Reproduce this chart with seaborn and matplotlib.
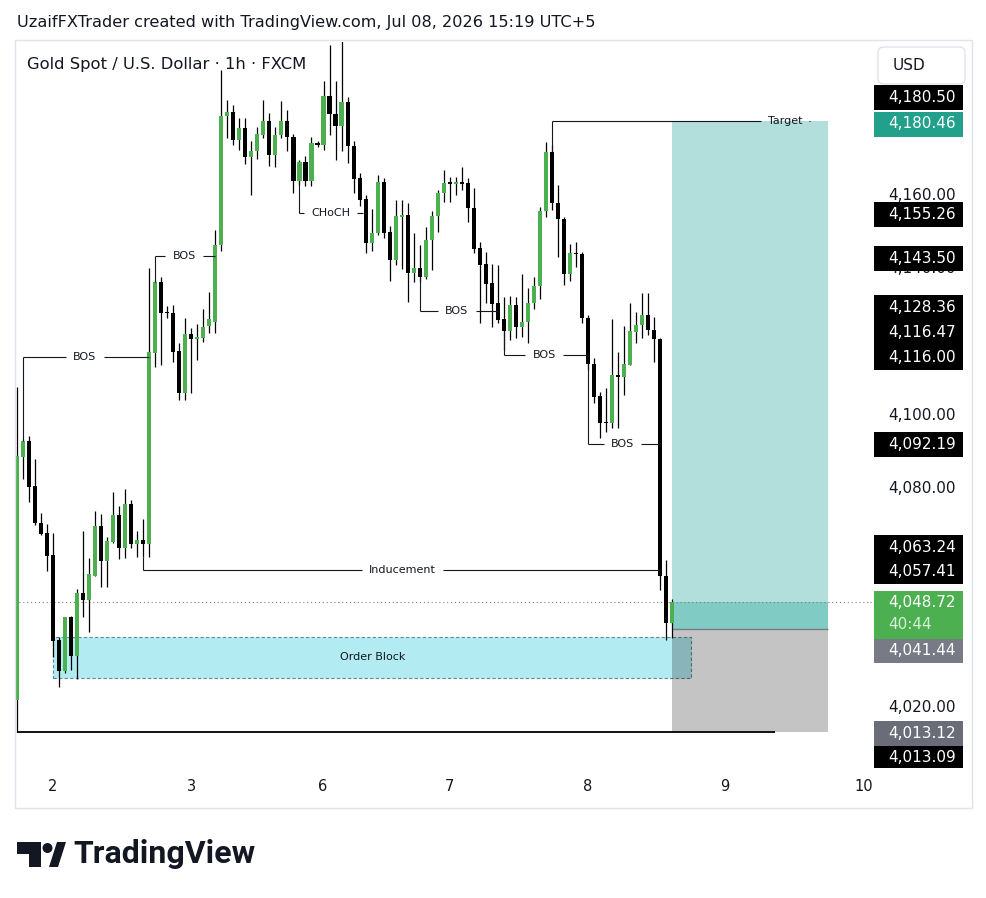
import numpy as np
import pandas as pd
import matplotlib
matplotlib.use("Agg")
import matplotlib.pyplot as plt
import seaborn as sns
from matplotlib.patches import Rectangle, FancyBboxPatch, Polygon, Ellipse

# XAUUSD 1h candles
opens = [4021.9, 4088.6, 4093.0, 4080.5, 4070.3, 4067.8, 4061.6, 4038.4, 4030.0, 4044.6,
         4034.0, 4051.1, 4049.3, 4055.9, 4069.6, 4060.1, 4065.3, 4072.6, 4063.5, 4075.6,
         4064.7, 4065.8, 4064.6, 4117.1, 4136.4, 4128.0, 4127.9, 4117.6, 4106.0, 4122.2,
         4120.7, 4121.2, 4124.4, 4125.6, 4146.6, 4181.8, 4183.0, 4175.4, 4178.6, 4170.6,
         4172.4, 4176.8, 4180.6, 4171.3, 4176.6, 4180.6, 4176.3, 4164.2, 4169.3, 4164.2,
         4174.5, 4173.9, 4187.3, 4182.5, 4179.1, 4185.8, 4173.6, 4164.9, 4159.3, 4147.1,
         4149.9, 4163.8, 4150.1, 4142.5, 4154.2, 4154.8, 4139.0, 4140.2, 4137.7, 4147.9,
         4154.5, 4160.7, 4163.5, 4163.2, 4163.8, 4163.5, 4156.6, 4145.7, 4141.4, 4136.2,
         4130.6, 4126.2, 4123.1, 4130.1, 4124.2, 4125.6, 4130.6, 4135.3, 4155.8, 4172.1,
         4158.2, 4153.6, 4138.6, 4144.5, 4144.1, 4126.5, 4114.0, 4105.2, 4097.9, 4097.9,
         4111.0, 4110.5, 4113.7, 4122.8, 4124.7, 4127.4, 4123.3, 4120.7, 4055.9, 4042.9]
highs = [4107.8, 4093.5, 4094.2, 4087.9, 4073.1, 4070.1, 4067.6, 4039.3, 4044.6, 4045.0,
         4052.2, 4068.3, 4060.7, 4073.6, 4072.9, 4066.5, 4079.0, 4075.1, 4079.6, 4076.7,
         4068.3, 4071.4, 4140.2, 4137.0, 4137.9, 4129.8, 4130.1, 4119.7, 4126.5, 4123.8,
         4125.0, 4129.0, 4133.8, 4150.8, 4194.6, 4186.4, 4185.0, 4181.4, 4181.4, 4175.0,
         4179.0, 4186.2, 4182.7, 4179.0, 4186.1, 4183.6, 4177.0, 4169.8, 4170.9, 4176.3,
         4175.0, 4191.4, 4201.5, 4191.4, 4202.4, 4187.0, 4175.0, 4166.3, 4160.4, 4156.5,
         4165.8, 4165.0, 4151.7, 4159.0, 4159.0, 4158.2, 4149.8, 4146.6, 4151.4, 4156.0,
         4161.6, 4167.1, 4165.1, 4165.3, 4167.9, 4165.0, 4162.1, 4147.5, 4144.7, 4141.4,
         4141.1, 4132.4, 4132.6, 4132.4, 4138.6, 4134.7, 4137.8, 4157.1, 4174.9, 4174.0,
         4163.0, 4154.3, 4146.8, 4147.5, 4144.7, 4127.4, 4115.5, 4106.4, 4107.3, 4126.2,
         4117.3, 4124.4, 4130.8, 4128.3, 4133.5, 4133.5, 4126.9, 4121.0, 4060.3, 4049.5]
lows = [4013.1, 4082.6, 4076.1, 4069.9, 4067.1, 4057.3, 4033.8, 4025.6, 4029.3, 4030.1,
        4027.6, 4044.7, 4040.6, 4055.9, 4052.8, 4052.8, 4065.0, 4060.5, 4060.7, 4063.5,
        4061.2, 4061.0, 4061.2, 4113.2, 4113.7, 4126.5, 4114.6, 4104.1, 4104.1, 4106.0,
        4115.0, 4120.0, 4122.4, 4122.5, 4145.0, 4175.9, 4174.0, 4172.7, 4168.8, 4160.2,
        4170.0, 4175.9, 4168.1, 4168.0, 4175.9, 4172.2, 4160.9, 4163.0, 4162.7, 4162.7,
        4173.5, 4172.7, 4176.6, 4169.9, 4172.2, 4169.0, 4160.8, 4157.2, 4144.4, 4144.8,
        4149.4, 4148.5, 4136.6, 4141.0, 4140.0, 4131.0, 4136.5, 4136.5, 4137.2, 4139.7,
        4150.2, 4158.4, 4158.4, 4160.3, 4161.6, 4153.0, 4144.5, 4125.3, 4130.6, 4124.2,
        4125.1, 4117.8, 4120.5, 4121.0, 4121.4, 4119.6, 4129.0, 4131.7, 4154.3, 4156.2,
        4143.4, 4135.6, 4136.8, 4140.6, 4125.1, 4112.3, 4103.2, 4093.6, 4095.4, 4096.4,
        4096.4, 4105.5, 4113.7, 4119.6, 4121.0, 4121.9, 4114.4, 4052.0, 4038.4, 4039.0]
closes = [4088.8, 4093.0, 4080.4, 4070.3, 4067.4, 4061.4, 4038.2, 4030.0, 4044.6, 4034.0,
          4051.3, 4049.3, 4056.4, 4069.6, 4060.1, 4065.6, 4072.6, 4063.5, 4075.6, 4064.7,
          4065.8, 4064.6, 4117.3, 4136.4, 4128.0, 4127.9, 4117.3, 4106.0, 4122.2, 4120.7,
          4121.5, 4124.2, 4126.2, 4146.6, 4181.8, 4183.0, 4175.4, 4178.6, 4170.6, 4172.4,
          4177.0, 4180.6, 4171.3, 4176.6, 4180.6, 4176.3, 4164.2, 4169.3, 4164.2, 4174.5,
          4173.9, 4187.3, 4182.5, 4179.1, 4185.8, 4173.6, 4164.7, 4159.0, 4147.1, 4149.9,
          4163.8, 4149.9, 4142.5, 4154.4, 4154.9, 4139.0, 4140.2, 4137.7, 4147.9, 4154.5,
          4160.7, 4163.5, 4163.4, 4163.8, 4163.3, 4156.6, 4145.4, 4141.1, 4135.9, 4130.4,
          4126.0, 4123.1, 4130.1, 4124.2, 4125.6, 4130.6, 4135.3, 4155.8, 4172.1, 4158.2,
          4153.6, 4138.6, 4144.5, 4144.1, 4126.5, 4114.0, 4105.0, 4097.9, 4097.8, 4111.0,
          4110.5, 4114.0, 4123.1, 4124.7, 4127.4, 4123.3, 4120.7, 4055.9, 4042.9, 4048.7]

date_ticks = [6.0, 29.0, 50.9, 72.0, 95.0, 117.8, 140.9]
date_labels = ["2", "3", "6", "7", "8", "9", "10"]

# market structure drawings
struct_names = ["BOS", "BOS", "CHoCH", "BOS", "BOS", "BOS", "Inducement", "Target"]
struct_start = [1, 23, 47, 67, 81, 95, 21, 89]
struct_anchor = [4093.0, 4136.4, 4164.2, 4137.7, 4123.1, 4114.0, 4061.0, 4172.1]
struct_level = [4116.00, 4143.50, 4155.26, 4128.36, 4116.47, 4092.19, 4057.41, 4180.50]
struct_end = [22, 33, 57.5, 80, 95, 107, 107, 132]
struct_text_x = [11.3, 27.8, 52.2, 73.2, 87.7, 100.8, 64.1, 127.8]

# order block
ob_left, ob_right = 6, 112.2
ob_top, ob_bottom = 4039.3, 4027.9

# long position tool
pos_left, pos_right = 109, 134.9
target = 4180.46
entry = 4041.44
stop = 4013.12
last_price = 4048.72
countdown = "40:44"
low_line = 4013.09
low_line_end = 126.1

# price scale labels
tick_prices = [4020, 4040, 4060, 4080, 4100, 4120, 4140, 4160, 4180]
label_values = [4180.50, 4180.46, 4155.26, 4143.50, 4128.36, 4116.47, 4116.00,
                4092.19, 4063.24, 4057.41, 4041.44, 4013.12, 4013.09]
label_colors = ["#000000", "#22a08c", "#000000", "#000000", "#000000", "#000000", "#000000",
                "#000000", "#000000", "#000000", "#787b86", "#6a6d78", "#000000"]
# where TradingView stacked the labels (pixel rows)
label_rows = [97.5, 124, 214.5, 258.5, 307, 332.5, 357.5, 444.5, 547, 571, 650.5, 733.5, 758]

GREEN = "#4caf50"
INK = "#131722"

sns.set_theme(style="white")
plt.rcParams["font.family"] = ["DejaVu Sans"]

W, H = 987, 898
fig = plt.figure(figsize=(W / 100, H / 100), dpi=100)
fig.patch.set_facecolor("white")


def fig_rect(x0, y0, x1, y1):
    return [x0 / W, 1 - y1 / H, (x1 - x0) / W, (y1 - y0) / H]


ax = fig.add_axes(fig_rect(15, 42, 870, 768))
ax.set_xlim(-0.333, 141.93)
ax.set_ylim(4003.29, 4202.19)
ax.set_autoscale_on(False)
ax.set_facecolor("white")
sns.despine(ax=ax, left=True, bottom=True)
ax.set_yticks([])
ax.set_xticks(date_ticks, date_labels)
ax.tick_params(axis="x", length=0, pad=8, labelsize=10.5, labelcolor=INK)

df = pd.DataFrame({"open": opens, "high": highs, "low": lows, "close": closes})
df["idx"] = np.arange(len(df))
up = df["close"] >= df["open"]
body_lo = df[["open", "close"]].min(axis=1)
body_h = (df["close"] - df["open"]).abs().clip(lower=0.35)

# position tool + order block
ax.add_patch(Rectangle((ob_left, ob_bottom), ob_right - ob_left, ob_top - ob_bottom,
                       facecolor="#b2ebf2", edgecolor="#5f8a91", ls=(0, (3, 2)), lw=0.8, zorder=1))
ax.text((ob_left + ob_right) / 2, (ob_top + ob_bottom) / 2, "Order Block",
        ha="center", va="center", fontsize=8, color=INK, zorder=5)
ax.add_patch(Rectangle((pos_left, last_price), pos_right - pos_left, target - last_price,
                       facecolor="#b2dfdb", edgecolor="none", zorder=1))
ax.add_patch(Rectangle((pos_left, entry), pos_right - pos_left, last_price - entry,
                       facecolor="#80cbc4", edgecolor="none", zorder=1))
ax.add_patch(Rectangle((pos_left, stop), pos_right - pos_left, entry - stop,
                       facecolor=(0, 0, 0, 0.23), edgecolor="none", zorder=2))
ax.hlines(entry, pos_left, pos_right, color="#787b86", lw=1, zorder=2.5)
ax.axhline(last_price, color="#787b86", lw=0.8, ls=(0, (1, 2.5)), zorder=2.6)

# candles
ax.vlines(df["idx"], df["low"], df["high"], color="#000000", lw=0.9, zorder=3)
ax.bar(df["idx"], body_h, bottom=body_lo, width=0.68,
       color=np.where(up, GREEN, "#000000"), edgecolor="none", zorder=3.5)

ax.hlines(low_line, 0, low_line_end, color="#000000", lw=1.3, zorder=4)

# structure lines with the label sitting in a gap
texts = []
for name, tx, lvl in zip(struct_names, struct_text_x, struct_level):
    texts.append(ax.text(tx, lvl, name, ha="center", va="center", fontsize=8, color=INK, zorder=5))
fig.canvas.draw()
rend = fig.canvas.get_renderer()
inv = ax.transData.inverted()
for t, s, a, lvl, e in zip(texts, struct_start, struct_anchor, struct_level, struct_end):
    bb = t.get_window_extent(rend)
    xl = inv.transform((bb.x0 - 7, 0))[0]
    xr = inv.transform((bb.x1 + 7, 0))[0]
    kw = dict(color=INK, lw=0.8, zorder=4, solid_capstyle="butt")
    ax.plot([s, s], [a, lvl], **kw)
    ax.plot([s, xl], [lvl, lvl], **kw)
    ax.plot([xr, e], [lvl, lvl], **kw)

# price scale column (pixel rows)
ax2 = fig.add_axes(fig_rect(870, 42, 972, 768))
ax2.set_xlim(870, 972)
ax2.set_ylim(768, 42)
ax2.axis("off")


def row_of(price):
    y0, y1 = ax.get_ylim()
    return 42 + (y1 - price) / (y1 - y0) * 726


lp_row = row_of(last_price)
boxes = [(row - 12.5, row + 12.5) for row in label_rows] + [(lp_row - 11, lp_row + 37)]


def covered(row):
    # tick text fully hidden behind the price labels -> TradingView does not show it
    return all(any(b0 <= r <= b1 for b0, b1 in boxes) for r in (row - 6, row, row + 6))


for p in tick_prices:
    r = row_of(p)
    if not covered(r):
        ax2.text(888, r, f"{p:,.2f}", ha="left", va="center", fontsize=11, color=INK, zorder=1)
for val, col, row in zip(label_values, label_colors, label_rows):
    ax2.add_patch(Rectangle((874, row - 12.5), 89, 25, facecolor=col, edgecolor="none", zorder=2))
    ax2.text(888, row, f"{val:,.2f}", ha="left", va="center", fontsize=11, color="white", zorder=3)
ax2.add_patch(Rectangle((874, lp_row - 11), 89, 48, facecolor=GREEN, edgecolor="none", zorder=2))
ax2.text(888, lp_row, f"{last_price:,.2f}", ha="left", va="center", fontsize=11, color="white", zorder=3)
ax2.text(888, lp_row + 22, countdown, ha="left", va="center", fontsize=11, color="#d7f0d8", zorder=3)
ax2.plot([870, 874], [lp_row, lp_row], color="#787b86", lw=0.8, ls=(0, (1, 2.5)))

# frame, header, title, currency button
fig.add_artist(Rectangle((15 / W, 1 - 808 / H), 957 / W, 768 / H, transform=fig.transFigure,
                         fill=False, edgecolor="#e0e3eb", lw=1))
fig.text(17 / W, 1 - 22 / H, "UzaifFXTrader created with TradingView.com, Jul 08, 2026 15:19 UTC+5",
         ha="left", va="center", fontsize=11.6, color=INK)
fig.text(27 / W, 1 - 64 / H, "Gold Spot / U.S. Dollar \u00b7 1h \u00b7 FXCM",
         ha="left", va="center", fontsize=11.8, color=INK)
fig.add_artist(FancyBboxPatch((878 / W, 1 - 84 / H), 87 / W, 37 / H, transform=fig.transFigure,
                              boxstyle="round,pad=0,rounding_size=0.006",
                              facecolor="white", edgecolor="#e0e3eb", lw=1))
fig.text(893 / W, 1 - 66 / H, "USD", ha="left", va="center", fontsize=11, color=INK)


# TradingView logo
def fpts(pts):
    return [(x / W, 1 - y / H) for x, y in pts]


fig.add_artist(Polygon(fpts([(17, 842), (41.5, 842), (41.5, 867), (29, 867), (29, 854), (17, 854)]),
                       closed=True, transform=fig.transFigure, facecolor=INK, edgecolor="none"))
fig.add_artist(Ellipse((47.5 / W, 1 - 848 / H), 10 / W, 10 / H, transform=fig.transFigure,
                       facecolor=INK, edgecolor="none"))
fig.add_artist(Polygon(fpts([(49, 867), (58, 867), (66, 842), (57, 842)]),
                       closed=True, transform=fig.transFigure, facecolor=INK, edgecolor="none"))
fig.text(73 / W, 1 - 854 / H, "TradingView", ha="left", va="center", fontsize=23,
         fontweight="bold", family="Roboto", color=INK)

fig.savefig("out.png", dpi=100, facecolor="white")
